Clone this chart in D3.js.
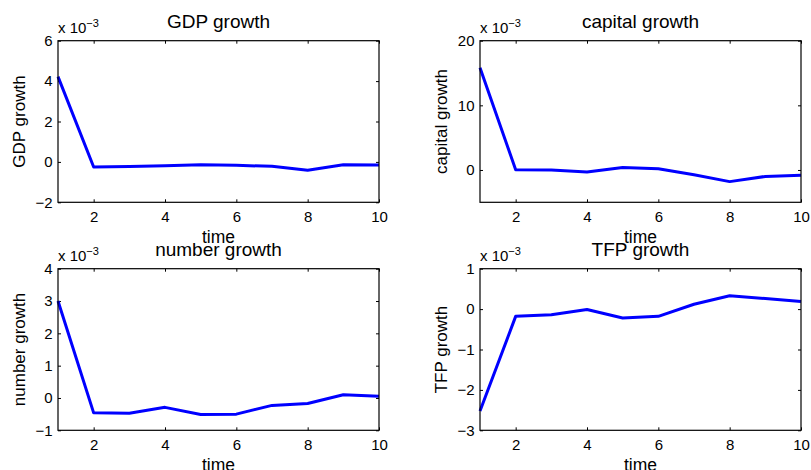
<!DOCTYPE html>
<html>
<head>
<meta charset="utf-8">
<script src="https://cdn.jsdelivr.net/npm/d3@7"></script>
<style>
  html, body { margin: 0; padding: 0; background: #fff; }
  svg { display: block; font-family: "Liberation Sans", Arial, Helvetica, sans-serif; }
</style>
</head>
<body>
<svg id="fig" width="811" height="470"></svg>
<script>
// Periods on the horizontal axis
const time = [1, 2, 3, 4, 5, 6, 7, 8, 9, 10];
const xTicks = [2, 4, 6, 8, 10];

// Growth responses, in units of 1e-3
const gdpGrowth     = [4.22, -0.25, -0.23, -0.19, -0.14, -0.17, -0.22, -0.41, -0.14, -0.15];
const capitalGrowth = [15.8, 0.05, -0.02, -0.3, 0.4, 0.2, -0.75, -1.8, -1.0, -0.8];
const numberGrowth  = [3.0, -0.46, -0.47, -0.29, -0.51, -0.5, -0.23, -0.17, 0.1, 0.05];
const tfpGrowth     = [-2.52, -0.18, -0.14, -0.01, -0.22, -0.18, 0.12, 0.33, 0.26, 0.19];

// Vertical ranges and tick values for each panel
const gdpDomain = [-2, 6],  gdpTicks = [-2, 0, 2, 4, 6];
const capDomain = [-5, 20], capTicks = [0, 10, 20];
const numDomain = [-1, 4],  numTicks = [-1, 0, 1, 2, 3, 4];
const tfpDomain = [-3, 1],  tfpTicks = [-3, -2, -1, 0, 1];

const panels = [
  { title: "GDP growth",     values: gdpGrowth,     domain: gdpDomain, ticks: gdpTicks, left: 58,  top: 40.7 },
  { title: "capital growth", values: capitalGrowth, domain: capDomain, ticks: capTicks, left: 480, top: 40.7 },
  { title: "number growth",  values: numberGrowth,  domain: numDomain, ticks: numTicks, left: 58,  top: 268.7 },
  { title: "TFP growth",     values: tfpGrowth,     domain: tfpDomain, ticks: tfpTicks, left: 480, top: 268.7 }
];

const W = 321, H = 161.6, tickLen = 3;
const fmt = d => (d < 0 ? "\u2212" + Math.abs(d) : String(d));
const svg = d3.select("#fig");

panels.forEach(p => {
  const g = svg.append("g").attr("transform", `translate(${p.left},${p.top})`);
  const x = d3.scaleLinear().domain([1, 10]).range([0, W]);
  const y = d3.scaleLinear().domain(p.domain).range([H, 0]);

  // inward ticks on all four sides
  const axes = [
    { ax: d3.axisBottom(x).tickValues(xTicks).tickFormat(fmt).tickPadding(9.4), t: `translate(0,${H})`, cls: "xb" },
    { ax: d3.axisTop(x).tickValues(xTicks).tickFormat(""), t: "translate(0,0)", cls: "xt" },
    { ax: d3.axisLeft(y).tickValues(p.ticks).tickFormat(fmt).tickPadding(5.5), t: "translate(0,0)", cls: "yl" },
    { ax: d3.axisRight(y).tickValues(p.ticks).tickFormat(""), t: `translate(${W},0)`, cls: "yr" }
  ];
  axes.forEach(a => {
    const ag = g.append("g").attr("transform", a.t)
      .call(a.ax.tickSizeInner(-tickLen).tickSizeOuter(0));
    ag.select(".domain").remove();
    ag.selectAll(".tick line").attr("stroke", "#000").attr("stroke-width", 1);
    ag.selectAll(".tick text").attr("fill", "#000").style("font-size", "15px")
      .style("font-family", "'Liberation Sans', Arial, Helvetica, sans-serif");
  });

  // series line
  const line = d3.line().x((d, i) => x(time[i])).y(d => y(d));
  g.append("path").datum(p.values)
    .attr("d", line)
    .attr("fill", "none")
    .attr("stroke", "#0000ff")
    .attr("stroke-width", 3)
    .attr("stroke-linejoin", "round");

  // axes box
  g.append("rect").attr("x", 0).attr("y", 0).attr("width", W).attr("height", H)
    .attr("fill", "none").attr("stroke", "#000").attr("stroke-width", 1.2);

  // scale factor label
  const ex = g.append("text").attr("x", 0).attr("y", -8).style("font-size", "15px").attr("fill", "#000");
  ex.append("tspan").text("x 10");
  ex.append("tspan").attr("dy", -6).style("font-size", "11px").text("\u22123");

  // title
  g.append("text").attr("x", W / 2).attr("y", -13).attr("text-anchor", "middle")
    .style("font-size", "19px").attr("fill", "#000").text(p.title);

  // axis labels
  g.append("text").attr("x", W / 2).attr("y", H + 41).attr("text-anchor", "middle")
    .style("font-size", "17.5px").attr("fill", "#000").text("time");
  g.append("text").attr("transform", `translate(-33,${H / 2}) rotate(-90)`)
    .attr("text-anchor", "middle").style("font-size", "17px").attr("fill", "#000").text(p.title);
});
</script>
</body>
</html>
